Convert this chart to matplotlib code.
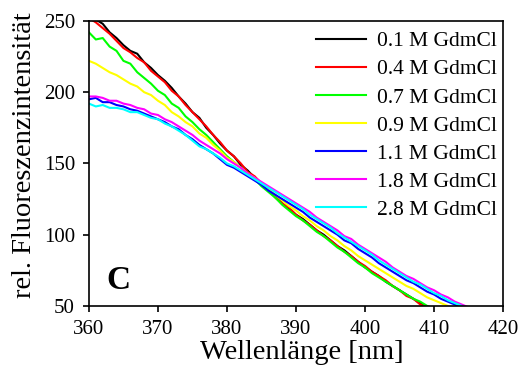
import matplotlib
matplotlib.use("Agg")
import matplotlib.pyplot as plt

plt.rcParams["font.family"] = ["Liberation Serif", "DejaVu Serif"]

# Wellenlänge [nm], 1-nm-Schritte ab 360
wl_start = 360

# rel. Fluoreszenzintensität
gdm_01 = [255, 251, 248, 242, 238, 233, 229, 227, 221, 217, 212, 208, 203, 197, 192, 186, 182, 175, 170, 164,
          159, 155, 149, 145, 140, 136, 131, 127, 122, 118, 114, 111, 107, 103, 100, 96, 92, 89, 85, 81,
          77, 74, 71, 67, 64, 61, 58, 55, 52, 49]
gdm_04 = [252, 249, 245, 241, 236, 231, 228, 224, 221, 215, 211, 207, 201, 197, 191, 186, 181, 176, 170, 165,
          159, 155, 150, 144, 141, 136, 132, 126, 122, 119, 114, 110, 107, 103, 99, 96, 92, 88, 85, 81,
          78, 74, 71, 68, 64, 61, 57, 55, 51, 49]
gdm_07 = [242, 237, 238, 232, 229, 222, 220, 214, 210, 206, 201, 198, 192, 189, 183, 179, 174, 170, 165, 160,
          155, 151, 147, 143, 139, 134, 130, 126, 121, 117, 113, 110, 106, 102, 99, 95, 91, 88, 84, 80,
          77, 73, 70, 67, 64, 61, 58, 55, 53, 50, 48]
gdm_09 = [222, 220, 217, 214, 212, 209, 206, 204, 200, 198, 194, 191, 186, 183, 179, 176, 171, 168, 163, 159,
          154, 151, 147, 143, 140, 136, 132, 128, 124, 120, 117, 113, 110, 106, 103, 99, 96, 92, 89, 85,
          82, 79, 76, 73, 70, 67, 64, 62, 59, 56, 54, 52, 50, 48]
gdm_11 = [195, 196, 193, 193, 191, 190, 188, 187, 185, 183, 181, 179, 176, 174, 170, 167, 163, 160, 157, 153,
          149, 147, 144, 141, 138, 135, 131, 128, 125, 122, 119, 116, 112, 109, 106, 103, 100, 96, 94, 90,
          87, 84, 80, 77, 74, 71, 68, 66, 63, 60, 58, 55, 53, 51, 49]
gdm_18 = [197, 197, 196, 194, 194, 192, 191, 189, 188, 185, 184, 181, 179, 176, 173, 170, 166, 163, 160, 157,
          153, 150, 147, 143, 140, 137, 134, 131, 128, 125, 122, 119, 116, 112, 109, 106, 103, 99, 97, 93,
          90, 87, 84, 81, 77, 74, 71, 69, 66, 63, 61, 58, 56, 53, 51, 49]
gdm_28 = [192, 190, 191, 189, 189, 188, 186, 186, 184, 182, 181, 178, 176, 173, 170, 166, 162, 160, 157, 154,
          150, 148, 145, 142, 139, 136, 133, 130, 127, 124, 121, 118, 114, 111, 108, 105, 101, 98, 95, 92,
          89, 86, 82, 79, 76, 73, 70, 67, 65, 62, 59, 57, 54, 52, 50, 48]

reihen = [gdm_01, gdm_04, gdm_07, gdm_09, gdm_11, gdm_18, gdm_28]
namen = ["0.1 M GdmCl", "0.4 M GdmCl", "0.7 M GdmCl", "0.9 M GdmCl",
         "1.1 M GdmCl", "1.8 M GdmCl", "2.8 M GdmCl"]
farben = ["#000000", "#ff0000", "#00ff00", "#ffff00", "#0000ff", "#ff00ff", "#00ffff"]

fig = plt.figure(figsize=(5.23, 3.74), dpi=100)
ax = fig.add_axes([0.170, 0.182, 0.792, 0.762])

for werte, name, farbe in zip(reihen, namen, farben):
    x = [wl_start + i for i in range(len(werte))]
    ax.plot(x, werte, color=farbe, lw=1.5, label=name)

ax.set_xlim(360, 420)
ax.set_ylim(50, 250)
ax.set_xticks([360, 370, 380, 390, 400, 410, 420])
ax.set_yticks([50, 100, 150, 200, 250])
ax.tick_params(direction="out", length=4, width=1.2, labelsize=15, pad=6,
               top=False, right=False)
for s in ax.spines.values():
    s.set_linewidth(1.2)

ax.set_xlabel("Wellenlänge [nm]", fontsize=20.5, labelpad=1)
ax.set_ylabel("rel. Fluoreszenzintensität", fontsize=20.5, labelpad=5)
ax.xaxis.label.set_x(0.515)
ax.yaxis.label.set_y(0.53)

ax.text(0.043, 0.058, "C", transform=ax.transAxes, fontsize=24,
        fontweight="bold", va="baseline", ha="left")

ax.legend(loc="upper right", bbox_to_anchor=(1.0, 0.986), frameon=False,
          fontsize=15.5, handlelength=2.3, handletextpad=0.5, labelspacing=0.37,
          borderaxespad=0.2, borderpad=0.1)

fig.savefig("out.png", dpi=100)
